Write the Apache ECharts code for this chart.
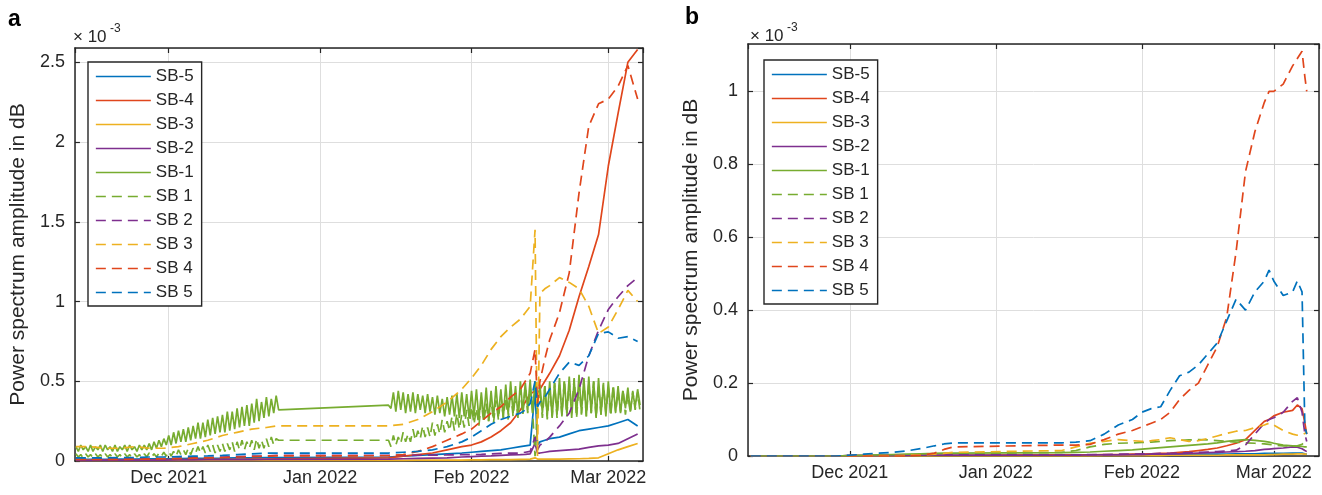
<!DOCTYPE html>
<html>
<head>
<meta charset="utf-8">
<script src="https://cdn.jsdelivr.net/npm/echarts@6/dist/echarts.min.js"></script>
<style>
  html, body { margin: 0; padding: 0; background: #fff; }
  #chartA { position: absolute; left: 0; top: 0; width: 660px; height: 495px; }
  #chartB { position: absolute; left: 660px; top: 0; width: 662px; height: 495px; }
</style>
</head>
<body>
<div id="chartA"></div>
<div id="chartB"></div>
<script>
// values are in units of 1e-3 (axis shows x10^-3)
// days are counted from 1 Dec 2021
const names = ["SB-5", "SB-4", "SB-3", "SB-2", "SB-1", "SB 1", "SB 2", "SB 3", "SB 4", "SB 5"];
const colors = ["#0072BD", "#E0461C", "#EDB120", "#7E2F8E", "#77AC30",
                "#77AC30", "#7E2F8E", "#EDB120", "#E0461C", "#0072BD"];

// ---- panel a ----
const dayA = [-19, -16, -13, -10, -7, -4, -1, 2, 5, 8, 11, 14, 17, 20, 22,
  45, 48, 51, 54, 57, 60, 62, 64, 66, 68, 70, 72, 73, 74, 75, 75.5, 76, 77, 78,
  80, 82, 84, 86, 88, 90, 92, 94, 96];

const sb5A = [0.01, 0.01, 0.01, 0.012, 0.012, 0.013, 0.014, 0.015, 0.016, 0.017, 0.018, 0.02, 0.02, 0.022, 0.022,
  0.025, 0.03, 0.035, 0.04, 0.045, 0.05, 0.055, 0.06, 0.065, 0.07, 0.08, 0.09, 0.095, 0.1, 0.44, 0.1, 0.12, 0.13, 0.14,
  0.15, 0.17, 0.19, 0.2, 0.21, 0.22, 0.24, 0.26, 0.22];
const sb4A = [0.005, 0.005, 0.006, 0.006, 0.007, 0.007, 0.008, 0.008, 0.009, 0.01, 0.01, 0.011, 0.012, 0.012, 0.013,
  0.02, 0.03, 0.04, 0.05, 0.07, 0.09, 0.1, 0.12, 0.15, 0.19, 0.24, 0.32, 0.37, 0.42, 0.44, 0.41, 0.45, 0.5, 0.55,
  0.66, 0.82, 1.03, 1.22, 1.42, 1.85, 2.18, 2.5, 2.58];
const sb3A = [0.003, 0.003, 0.003, 0.003, 0.003, 0.003, 0.003, 0.003, 0.003, 0.003, 0.003, 0.003, 0.003, 0.003, 0.003,
  0.004, 0.004, 0.005, 0.005, 0.006, 0.006, 0.007, 0.007, 0.008, 0.008, 0.009, 0.01, 0.01, 0.012, 0.02, 0.012, 0.012, 0.012, 0.012,
  0.012, 0.013, 0.014, 0.016, 0.02, 0.045, 0.07, 0.09, 0.11];
const sb2A = [0.004, 0.004, 0.005, 0.005, 0.005, 0.006, 0.006, 0.007, 0.007, 0.008, 0.008, 0.009, 0.009, 0.01, 0.01,
  0.012, 0.014, 0.016, 0.018, 0.02, 0.025, 0.028, 0.03, 0.032, 0.035, 0.038, 0.04, 0.042, 0.045, 0.11, 0.05, 0.05, 0.055, 0.06,
  0.065, 0.07, 0.075, 0.085, 0.095, 0.1, 0.11, 0.14, 0.17];
const sb2dA = [0.01, 0.01, 0.012, 0.012, 0.013, 0.014, 0.015, 0.018, 0.02, 0.022, 0.025, 0.028, 0.03, 0.032, 0.035,
  0.035, 0.035, 0.036, 0.037, 0.038, 0.04, 0.04, 0.042, 0.045, 0.048, 0.05, 0.05, 0.055, 0.06, 0.15, 0.07, 0.1, 0.12, 0.15,
  0.22, 0.3, 0.45, 0.66, 0.82, 0.95, 1.03, 1.1, 1.15];
const sb3dA = [0.09, 0.09, 0.08, 0.08, 0.09, 0.08, 0.08, 0.09, 0.11, 0.13, 0.16, 0.18, 0.2, 0.21, 0.22,
  0.22, 0.23, 0.26, 0.31, 0.37, 0.45, 0.52, 0.6, 0.7, 0.78, 0.84, 0.89, 0.93, 0.97, 1.45, 0.03, 1.05, 1.08, 1.1,
  1.15, 1.12, 1.08, 0.97, 0.8, 0.84, 0.95, 1.07, 1.0];
const sb4dA = [0.01, 0.01, 0.01, 0.01, 0.012, 0.012, 0.014, 0.015, 0.018, 0.02, 0.022, 0.025, 0.028, 0.03, 0.032,
  0.033, 0.04, 0.06, 0.09, 0.13, 0.17, 0.2, 0.25, 0.3, 0.34, 0.4, 0.45, 0.5, 0.55, 0.7, 0.36, 0.5, 0.64, 0.76,
  0.93, 1.18, 1.68, 2.1, 2.24, 2.27, 2.35, 2.48, 2.27];
const sb5dA = [0.02, 0.02, 0.02, 0.022, 0.022, 0.025, 0.025, 0.028, 0.03, 0.032, 0.035, 0.04, 0.045, 0.05, 0.05,
  0.05, 0.055, 0.06, 0.07, 0.09, 0.12, 0.15, 0.19, 0.23, 0.26, 0.28, 0.3, 0.32, 0.36, 0.5, 0.34, 0.37, 0.4, 0.45,
  0.55, 0.62, 0.6, 0.66, 0.8, 0.81, 0.77, 0.78, 0.75];

// SB-1 / SB 1 oscillate about once a day: daily peaks, troughs half a day later
const sb1PeakA1 = [0.09, 0.1, 0.09, 0.1, 0.09, 0.1, 0.1, 0.09, 0.1, 0.09, 0.1, 0.1, 0.09, 0.1,
  0.1, 0.11, 0.12, 0.13, 0.14,
  0.16, 0.18, 0.19, 0.2, 0.21, 0.22, 0.24, 0.24, 0.26, 0.27, 0.28, 0.29, 0.31, 0.31, 0.33, 0.34, 0.35, 0.36, 0.39, 0.37, 0.4, 0.39, 0.41];
const sb1TroughA1 = [0.06, 0.07, 0.06, 0.06, 0.07, 0.06, 0.07, 0.06, 0.06, 0.07, 0.06, 0.07, 0.06, 0.07,
  0.07, 0.07, 0.08, 0.09, 0.1,
  0.1, 0.11, 0.12, 0.12, 0.13, 0.14, 0.14, 0.15, 0.16, 0.17, 0.18, 0.18, 0.19, 0.2, 0.21, 0.22, 0.22, 0.24, 0.25, 0.27, 0.28, 0.3, 0.32];
const sb1PeakA2 = [0.35, 0.43, 0.44, 0.43, 0.42, 0.43, 0.42, 0.41, 0.42, 0.4,
  0.41, 0.39, 0.4, 0.41, 0.42, 0.43, 0.42, 0.44, 0.45, 0.43,
  0.46, 0.44, 0.47, 0.45, 0.48, 0.5, 0.47, 0.5, 0.49, 0.51,
  0.5, 0.48, 0.47, 0.5, 0.49, 0.52, 0.5, 0.53, 0.51, 0.54,
  0.52, 0.53, 0.5, 0.52, 0.48, 0.5, 0.46, 0.47, 0.44, 0.46,
  0.43, 0.45];
const sb1TroughA2 = [0.33, 0.31, 0.32, 0.3, 0.31, 0.3, 0.32, 0.3, 0.31, 0.29,
  0.3, 0.28, 0.29, 0.28, 0.27, 0.28, 0.27, 0.28, 0.26, 0.27,
  0.25, 0.27, 0.28, 0.27, 0.29, 0.3, 0.28, 0.3, 0.32, 0.3,
  0.35, 0.3, 0.28, 0.27, 0.29, 0.28, 0.3, 0.27, 0.29, 0.3,
  0.28, 0.3, 0.27, 0.29, 0.28, 0.3, 0.31, 0.3, 0.33, 0.31,
  0.34, 0.35];
const sb1dPeakA1 = [0.045, 0.04, 0.045, 0.04, 0.045, 0.04, 0.045, 0.04, 0.045, 0.04, 0.045, 0.04, 0.045, 0.04, 0.045, 0.05, 0.045, 0.05, 0.055,
  0.06, 0.06, 0.07, 0.07, 0.08, 0.08, 0.09, 0.09, 0.1, 0.1, 0.1, 0.11, 0.11, 0.12, 0.12, 0.13, 0.12, 0.13, 0.14, 0.13, 0.14, 0.15, 0.14];
const sb1dTroughA1 = [0.025, 0.02, 0.025, 0.02, 0.025, 0.02, 0.025, 0.02, 0.025, 0.02, 0.025, 0.02, 0.025, 0.02, 0.025, 0.025, 0.025, 0.03, 0.03,
  0.03, 0.03, 0.04, 0.04, 0.04, 0.05, 0.05, 0.05, 0.06, 0.05, 0.06, 0.06, 0.07, 0.06, 0.07, 0.07, 0.08, 0.07, 0.08, 0.08, 0.09, 0.1, 0.13];
const sb1dPeakA2 = [0.13, 0.16, 0.15, 0.18, 0.17, 0.2, 0.19, 0.22, 0.21, 0.24,
  0.23, 0.26, 0.25, 0.28, 0.3, 0.29, 0.32, 0.34, 0.33, 0.37,
  0.36, 0.39, 0.38, 0.41, 0.4, 0.44, 0.42, 0.45, 0.47, 0.46,
  0.03, 0.45, 0.47, 0.46, 0.49, 0.48, 0.51, 0.5, 0.52, 0.49,
  0.51, 0.48, 0.5, 0.47, 0.49, 0.46, 0.48, 0.44, 0.45, 0.42,
  0.44, 0.43];
const sb1dTroughA2 = [0.09, 0.1, 0.11, 0.12, 0.12, 0.13, 0.14, 0.15, 0.15, 0.16,
  0.17, 0.18, 0.19, 0.19, 0.2, 0.21, 0.22, 0.23, 0.22, 0.24,
  0.25, 0.24, 0.26, 0.27, 0.26, 0.28, 0.27, 0.29, 0.3, 0.31,
  0.34, 0.27, 0.26, 0.28, 0.27, 0.29, 0.28, 0.3, 0.27, 0.29,
  0.28, 0.3, 0.27, 0.29, 0.3, 0.28, 0.3, 0.31, 0.29, 0.3,
  0.32, 0.31];
const zigStartA = [-19, 45];

// ---- panel b ----
const dayB = [-21, -18, -15, -12, -9, -6, -3, 0, 3, 6, 9, 12, 15, 18, 20, 22,
  45, 48, 51, 54, 57, 60, 62, 64, 66, 68, 70, 72, 74, 76, 78, 80, 82, 84, 86, 88,
  89, 90, 92, 94, 95, 96, 96.6, 97];

const sb5B = [0, 0, 0, 0, 0, 0, 0, 0.001, 0.001, 0.001, 0.001, 0.002, 0.002, 0.002, 0.002, 0.002,
  0.002, 0.002, 0.002, 0.003, 0.003, 0.003, 0.003, 0.003, 0.004, 0.004, 0.004, 0.004, 0.005, 0.005, 0.005, 0.005, 0.006, 0.006, 0.006, 0.007,
  0.007, 0.007, 0.007, 0.008, 0.008, 0.008, 0.006, 0.005];
const sb4B = [0, 0, 0, 0, 0, 0, 0, 0.001, 0.001, 0.001, 0.001, 0.001, 0.002, 0.002, 0.002, 0.002,
  0.003, 0.003, 0.003, 0.004, 0.004, 0.005, 0.005, 0.006, 0.007, 0.008, 0.01, 0.012, 0.015, 0.018, 0.022, 0.028, 0.035, 0.045, 0.07, 0.095,
  0.1, 0.11, 0.12, 0.125, 0.14, 0.13, 0.09, 0.06];
const sb3B = [0, 0, 0, 0, 0, 0, 0, 0, 0, 0, 0, 0, 0, 0, 0, 0,
  0, 0, 0, 0.001, 0.001, 0.001, 0.001, 0.001, 0.001, 0.002, 0.002, 0.002, 0.002, 0.002, 0.002, 0.003, 0.003, 0.003, 0.003, 0.003,
  0.004, 0.004, 0.005, 0.005, 0.006, 0.006, 0.005, 0.005];
const sb2B = [0, 0, 0, 0, 0, 0, 0, 0.001, 0.001, 0.001, 0.001, 0.001, 0.002, 0.002, 0.002, 0.002,
  0.002, 0.002, 0.003, 0.003, 0.003, 0.004, 0.004, 0.005, 0.005, 0.006, 0.006, 0.007, 0.008, 0.009, 0.01, 0.011, 0.012, 0.013, 0.015, 0.018,
  0.019, 0.02, 0.022, 0.025, 0.024, 0.02, 0.015, 0.012];
const sb1B = [0, 0, 0, 0, 0, 0, 0, 0.001, 0.002, 0.003, 0.004, 0.005, 0.006, 0.007, 0.008, 0.008,
  0.009, 0.01, 0.011, 0.013, 0.015, 0.017, 0.019, 0.021, 0.023, 0.025, 0.027, 0.029, 0.031, 0.033, 0.036, 0.04, 0.043, 0.045, 0.043, 0.04,
  0.038, 0.035, 0.03, 0.028, 0.027, 0.026, 0.025, 0.025];
const sb1dB = [0, 0, 0, 0, 0, 0, 0, 0, 0.001, 0.001, 0.002, 0.002, 0.003, 0.004, 0.005, 0.006,
  0.01, 0.015, 0.025, 0.032, 0.035, 0.036, 0.037, 0.038, 0.04, 0.042, 0.043, 0.044, 0.045, 0.044, 0.042, 0.04, 0.038, 0.036, 0.035, 0.033,
  0.032, 0.03, 0.028, 0.027, 0.028, 0.032, 0.04, 0.045];
const sb2dB = [0, 0, 0, 0, 0, 0, 0, 0.001, 0.001, 0.001, 0.002, 0.002, 0.002, 0.003, 0.003, 0.003,
  0.003, 0.003, 0.004, 0.004, 0.005, 0.005, 0.006, 0.006, 0.007, 0.007, 0.008, 0.009, 0.01, 0.011, 0.012, 0.014, 0.016, 0.03, 0.06, 0.09,
  0.1, 0.105, 0.12, 0.15, 0.16, 0.12, 0.06, 0.04];
const sb3dB = [0, 0, 0, 0, 0, 0, 0, 0, 0.001, 0.001, 0.001, 0.002, 0.003, 0.005, 0.007, 0.01,
  0.015, 0.025, 0.035, 0.04, 0.045, 0.042, 0.04, 0.042, 0.045, 0.05, 0.045, 0.04, 0.042, 0.048, 0.055, 0.062, 0.068, 0.07, 0.078, 0.085,
  0.09, 0.085, 0.07, 0.06, 0.057, 0.058, 0.062, 0.066];
const sb4dB = [0, 0, 0, 0, 0, 0, 0, 0, 0, 0, 0, 0, 0.002, 0.008, 0.018, 0.025,
  0.03, 0.03, 0.032, 0.045, 0.06, 0.07, 0.08, 0.09, 0.1, 0.12, 0.155, 0.18, 0.2, 0.25, 0.3, 0.38, 0.56, 0.78, 0.89, 0.97,
  1.0, 1.0, 1.02, 1.07, 1.09, 1.11, 1.04, 1.0];
const sb5dB = [0, 0, 0, 0, 0, 0, 0, 0.002, 0.005, 0.008, 0.01, 0.014, 0.02, 0.028, 0.033, 0.036,
  0.036, 0.038, 0.042, 0.06, 0.085, 0.1, 0.12, 0.13, 0.135, 0.18, 0.22, 0.23, 0.25, 0.28, 0.31, 0.37, 0.43, 0.4, 0.45, 0.48,
  0.51, 0.48, 0.44, 0.45, 0.48, 0.45, 0.08, 0.06];

const FONT = '"Liberation Sans", Arial, Helvetica, sans-serif';
const INK = "#262626";
const DAY = 86400000;
const BASE = Date.UTC(2021, 11, 1);
const MONTHS = ["Jan", "Feb", "Mar", "Apr", "May", "Jun", "Jul", "Aug", "Sep", "Oct", "Nov", "Dec"];

function t(d) {
  return BASE + d * DAY;
}

function pairs(days, vals) {
  return days.map((d, i) => [t(d), vals[i]]);
}

function zigzag(starts, peaks, troughs) {
  const out = [];
  starts.forEach((s, k) => {
    peaks[k].forEach((p, i) => {
      out.push([t(s + i), p]);
      out.push([t(s + i + 0.5), troughs[k][i]]);
    });
  });
  return out;
}

function monthLabel(v) {
  const d = new Date(v);
  return MONTHS[d.getUTCMonth()] + " " + d.getUTCFullYear();
}

function makePanel(el, cfg) {
  const chart = echarts.init(document.getElementById(el), null, { renderer: "canvas" });
  const timeAxis = (pos) => ({
    type: "time",
    position: pos,
    min: t(cfg.xMin),
    max: t(cfg.xMax),
    splitNumber: 4,
    minInterval: 28 * DAY,
    maxInterval: 31 * DAY,
    axisLine: { show: true, onZero: false, lineStyle: { color: INK, width: 1.5 } },
    axisTick: { show: true, inside: true, length: 5, lineStyle: { color: INK, width: 1.2 } },
    axisLabel: {
      show: pos === "bottom",
      formatter: monthLabel,
      color: INK,
      fontSize: 18,
      fontFamily: FONT,
      margin: 8,
      showMinLabel: false,
      showMaxLabel: false,
    },
    splitLine: { show: pos === "bottom", lineStyle: { color: "#dedede", width: 1 } },
  });
  const valueAxis = (pos) => ({
    type: "value",
    position: pos,
    min: 0,
    max: cfg.yMax,
    interval: cfg.yInterval,
    name: pos === "left" ? "Power spectrum amplitude in dB" : "",
    nameLocation: "middle",
    nameGap: 43,
    nameTextStyle: { color: INK, fontSize: 21, fontFamily: FONT },
    axisLine: { show: true, lineStyle: { color: INK, width: 1.5 } },
    axisTick: { show: true, inside: true, length: 5, lineStyle: { color: INK, width: 1.2 } },
    axisLabel: {
      show: pos === "left",
      color: INK,
      fontSize: 18,
      fontFamily: FONT,
      margin: 10,
      showMaxLabel: false,
    },
    splitLine: { show: pos === "left", lineStyle: { color: "#dedede", width: 1 } },
  });

  const series = cfg.data.map((d, i) => ({
    type: "line",
    name: names[i],
    data: d,
    symbol: "none",
    showSymbol: false,
    silent: true,
    xAxisIndex: 0,
    yAxisIndex: 0,
    itemStyle: { color: colors[i] },
    lineStyle: { color: colors[i], width: 1.7, type: i < 5 ? "solid" : [10, 6] },
  }));

  chart.setOption({
    useUTC: true,
    animation: false,
    textStyle: { fontFamily: FONT },
    grid: cfg.grid,
    xAxis: [timeAxis("bottom"), timeAxis("top")],
    yAxis: [valueAxis("left"), valueAxis("right")],
    legend: {
      data: names,
      orient: "vertical",
      left: cfg.legend[0],
      top: cfg.legend[1],
      itemWidth: 55,
      itemHeight: 14,
      itemGap: 7,
      padding: [6, 8, 5, 7],
      borderColor: INK,
      borderWidth: 1.4,
      backgroundColor: "#fff",
      selectedMode: false,
      itemStyle: { opacity: 0 },
      lineStyle: { width: 1.7 },
      textStyle: { color: INK, fontSize: 17, fontFamily: FONT },
    },
    graphic: [
      { type: "text", left: cfg.tag[0], top: cfg.tag[1],
        style: { text: cfg.tag[2], font: "bold 23px " + FONT, fill: "#000" } },
      { type: "text", left: cfg.mult[0], top: cfg.mult[1],
        style: { text: "\u00d7 10", font: "17px " + FONT, fill: INK } },
      { type: "text", left: cfg.mult[0] + 37, top: cfg.mult[1] - 6,
        style: { text: "-3", font: "12px " + FONT, fill: INK } },
    ],
    series: series,
  });
  return chart;
}

makePanel("chartA", {
  grid: { left: 73, top: 48, width: 570, height: 413 },
  xMin: -19.2,
  xMax: 97.1,
  yMax: 2.59,
  yInterval: 0.5,
  legend: [88, 62],
  tag: [8, 8, "a"],
  mult: [73, 29],
  data: [
    pairs(dayA, sb5A), pairs(dayA, sb4A), pairs(dayA, sb3A), pairs(dayA, sb2A),
    zigzag(zigStartA, [sb1PeakA1, sb1PeakA2], [sb1TroughA1, sb1TroughA2]),
    zigzag(zigStartA, [sb1dPeakA1, sb1dPeakA2], [sb1dTroughA1, sb1dTroughA2]),
    pairs(dayA, sb2dA), pairs(dayA, sb3dA), pairs(dayA, sb4dA), pairs(dayA, sb5dA),
  ],
});

makePanel("chartB", {
  grid: { left: 88, top: 44, width: 571, height: 412 },
  xMin: -21.6,
  xMax: 99.6,
  yMax: 1.13,
  yInterval: 0.2,
  legend: [104, 60],
  tag: [25, 6, "b"],
  mult: [90, 28],
  data: [
    pairs(dayB, sb5B), pairs(dayB, sb4B), pairs(dayB, sb3B), pairs(dayB, sb2B), pairs(dayB, sb1B),
    pairs(dayB, sb1dB), pairs(dayB, sb2dB), pairs(dayB, sb3dB), pairs(dayB, sb4dB), pairs(dayB, sb5dB),
  ],
});
</script>
</body>
</html>
